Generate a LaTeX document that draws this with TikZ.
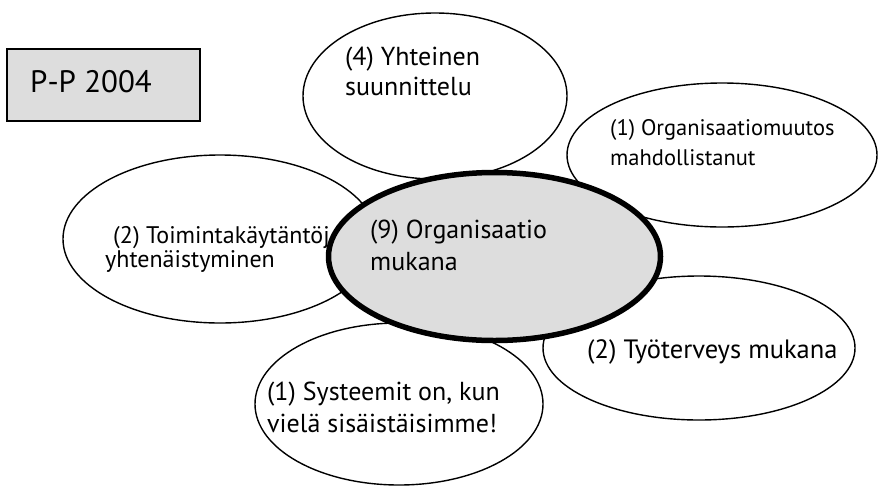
\documentclass[tikz,border=0pt]{standalone}
\usepackage{fontspec}
\setmainfont{PT Sans}
\usetikzlibrary{shapes.geometric}

\definecolor{shade}{RGB}{221,221,221}

\tikzset{
    bubble/.style={ellipse, draw, line width=1.4pt, fill=white, inner sep=0pt},
    hub/.style={ellipse, draw, line width=5.5pt, fill=shade, inner sep=0pt},
    caption/.style={anchor=base west, align=left, inner sep=0pt},
}

\begin{document}
\begin{tikzpicture}[x=1pt, y=-1pt]
    \useasboundingbox (0,0) rectangle (880,488);

    % year box
    \node[draw, line width=1.5pt, fill=shade, minimum width=193pt,
        minimum height=72pt, inner sep=0pt] (year) at (103.5,85) {};
    \node[caption, font=\fontsize{31}{36}\selectfont] (yeartext) at (30,92) {P-P 2004};

    % outer bubbles (caption y = last baseline)
    \node[bubble, minimum width=264pt, minimum height=166pt] (plan) at (435,96) {};
    \node[caption, font=\fontsize{26}{30}\selectfont] (plantext) at (345,95)
        {(4) Yhteinen\\suunnittelu};

    \node[bubble, minimum width=310pt, minimum height=144pt] (change) at (722,155) {};
    \node[caption, font=\fontsize{22.5}{30}\selectfont] (changetext) at (610,165)
        {(1) Organisaatiomuutos\\mahdollistanut};

    \node[bubble, minimum width=314pt, minimum height=168pt] (practice) at (220,239) {};
    \node[caption, font=\fontsize{24}{22}\selectfont] (practicetext) at (105,267)
        {\hspace{8pt}(2) Toimintakäytäntöj\\yhtenäistyminen};

    \node[bubble, minimum width=288pt, minimum height=162pt] (systems) at (399,404) {};
    \node[caption, font=\fontsize{26}{32}\selectfont] (systemstext) at (267,432)
        {(1) Systeemit on, kun\\vielä sisäistäisimme!};

    \node[bubble, minimum width=312pt, minimum height=144pt] (health) at (699,348) {};
    \node[caption, font=\fontsize{26.5}{32}\selectfont] (healthtext) at (587,358)
        {(2) Työterveys mukana};

    % centre
    \node[hub, minimum width=332pt, minimum height=168pt] (org) at (494.5,256.5) {};
    \node[caption, font=\fontsize{26}{32}\selectfont] (orgtext) at (370,270)
        {(9) Organisaatio\\mukana};
\end{tikzpicture}
\end{document}
